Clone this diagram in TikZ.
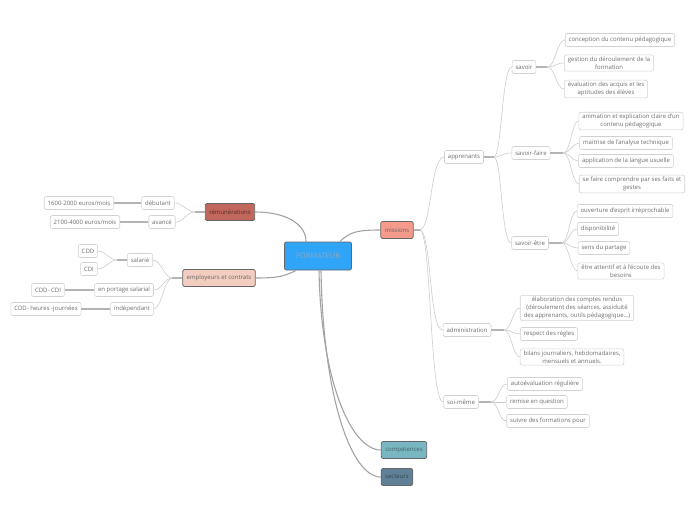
\documentclass[tikz,border=0pt]{standalone}
\usepackage{fontspec}
\setmainfont{Open Sans}
\usetikzlibrary{positioning}

\definecolor{leafline}{HTML}{D2D2D2}
\definecolor{leaftext}{HTML}{6E6E6E}
\definecolor{linkgray}{HTML}{CDCDCD}
\definecolor{stubgray}{HTML}{B4B4B4}
\definecolor{branchgray}{HTML}{A3A3A3}
\definecolor{formblue}{HTML}{30A5F8}
\definecolor{formtext}{HTML}{8AA8C6}
\definecolor{missionred}{HTML}{F69A8C}
\definecolor{remured}{HTML}{C1675B}
\definecolor{emppink}{HTML}{F2CDC0}
\definecolor{compteal}{HTML}{78B6C1}
\definecolor{sectslate}{HTML}{5F8097}

\begin{document}
\begin{tikzpicture}[
    x=1pt, y=-1pt,
    leaf/.style={
        rectangle,
        rounded corners=2pt,
        draw=leafline,
        line width=0.6pt,
        fill=white,
        text=leaftext,
        align=center,
        inner xsep=3.5pt,
        inner ysep=2pt,
        minimum height=13pt,
        font=\fontsize{6}{7.6}\selectfont
    },
    topic/.style={
        rectangle,
        rounded corners=2pt,
        draw=black!60,
        line width=0.8pt,
        align=center,
        inner xsep=4pt,
        minimum height=17pt,
        font=\fontsize{6}{7}\selectfont
    },
    link/.style={draw=linkgray, line width=0.6pt},
    stub/.style={draw=stubgray, line width=1.5pt},
    branch/.style={draw=branchgray, line width=1.1pt}
]
\useasboundingbox (0,0) rectangle (696,520);

% centre
\node[topic, fill=formblue, text=formtext, minimum width=67pt, minimum height=28pt,
      font=\fontsize{7.5}{8}\selectfont] (form) at (318,256) {FORMATEUR};

% main topics
\node[topic, fill=missionred, text=black!60] (missions) at (397,230) {missions};
\node[topic, fill=remured, text=black!55!remured] (remu) at (230,212) {rémunérations};
\node[topic, fill=emppink, text=black!60] (emp) at (219,278) {employeurs et contrats};
\node[topic, fill=compteal, text=black!45!compteal] (comp) at (404,450) {compétences};
\node[topic, fill=sectslate, text=black!45!sectslate] (sect) at (397,477) {secteurs};

% left side
\node[leaf] (debut) at (158,203) {débutant};
\node[leaf] (avance) at (162,222) {avancé};
\node[leaf] (debsal) at (79,203) {1600-2000 euros/mois};
\node[leaf] (avsal) at (85,222) {2100-4000 euros/mois};
\node[leaf] (salarie) at (140,260) {salarié};
\node[leaf] (cdd) at (88,251) {CDD};
\node[leaf] (cdi) at (89,269) {CDI};
\node[leaf] (portage) at (124,290) {en portage salarial};
\node[leaf] (portcontr) at (48,290) {CDD- CDI};
\node[leaf] (indep) at (132,309) {indépendant};
\node[leaf] (indcontr) at (46,309) {CDD- heures -journées};

% right side
\node[leaf] (appr) at (464,157) {apprenants};
\node[leaf] (savoir) at (524,67) {savoir};
\node[leaf] (savA) at (620,40) {conception du contenu pédagogique};
\node[leaf] (savB) at (609,63) {gestion du déroulement de la\\formation};
\node[leaf] (savC) at (606,89) {évaluation des acquis et les\\aptitudes des élèves};
\node[leaf] (sfaire) at (531,153) {savoir-faire};
\node[leaf] (sfA) at (631,121) {animation et explication claire d'un\\contenu pédagogique};
\node[leaf] (sfB) at (626,143) {maitrise de l'analyse technique};
\node[leaf] (sfC) at (626,161) {application de la langue usuelle};
\node[leaf] (sfD) at (632,184) {se faire comprendre par ses faits et\\gestes};
\node[leaf] (setre) at (530,243) {savoir-être};
\node[leaf] (seA) at (625,211) {ouverture d'esprit irréprochable};
\node[leaf] (seB) at (598,229) {disponibilité};
\node[leaf] (seC) at (604,248) {sens du partage};
\node[leaf] (seD) at (621,271) {être attentif et à l'écoute des\\besoins};
\node[leaf] (admin) at (467,330) {administration};
\node[leaf] (adA) at (577,308) {élaboration des comptes rendus\\(déroulement des séances, assiduité\\des apprenants, outils pédagogique...)};
\node[leaf] (adB) at (549,334) {respect des règles};
\node[leaf] (adC) at (572,357) {bilans journaliers, hebdomadaires,\\mensuels et annuels.};
\node[leaf] (soi) at (461,402) {soi-même};
\node[leaf] (soiA) at (545,384) {autoévaluation régulière};
\node[leaf] (soiB) at (537,402) {remise en question};
\node[leaf] (soiC) at (548,421) {suivre des formations pour};

% main branches
\draw[branch] ([xshift=-12pt]form.north east) .. controls +(10,-10) and +(-22,0) .. (missions.west);
\draw[branch] (remu.east) .. controls +(30,0) and +(0,-18) .. ([xshift=-12pt]form.north);
\draw[branch] (emp.east) .. controls +(22,0) and +(-12,6) .. ([xshift=12pt]form.south west);
\draw[branch] ([xshift=1pt]form.south) .. controls +(2,110) and +(-30,0) .. (comp.west);
\draw[branch] ([xshift=3pt]form.south) .. controls +(2,125) and +(-30,0) .. (sect.west);

% missions
\draw[stub] (missions.east) -- ++(6,0) coordinate (missions-j);
\foreach \c in {appr,admin,soi}
    \draw[link] (missions-j) .. controls +(12,0) and +(-14,0) .. (\c.west);

% apprenants
\draw[stub] (appr.east) -- ++(10,0) coordinate (appr-j);
\foreach \c in {savoir,sfaire,setre}
    \draw[link] (appr-j) .. controls +(8,0) and +(-10,0) .. (\c.west);

\draw[stub] (savoir.east) -- ++(11,0) coordinate (savoir-j);
\foreach \c in {savA,savB,savC}
    \draw[link] (savoir-j) .. controls +(8,0) and +(-8,0) .. (\c.west);

\draw[stub] (sfaire.east) -- ++(13,0) coordinate (sfaire-j);
\foreach \c in {sfA,sfB,sfC,sfD}
    \draw[link] (sfaire-j) .. controls +(7,0) and +(-7,0) .. (\c.west);

\draw[stub] (setre.east) -- ++(13,0) coordinate (setre-j);
\foreach \c in {seA,seB,seC,seD}
    \draw[link] (setre-j) .. controls +(7,0) and +(-7,0) .. (\c.west);

\draw[stub] (admin.east) -- ++(13,0) coordinate (admin-j);
\foreach \c in {adA,adB,adC}
    \draw[link] (admin-j) .. controls +(7,0) and +(-7,0) .. (\c.west);

\draw[stub] (soi.east) -- ++(12,0) coordinate (soi-j);
\foreach \c in {soiA,soiB,soiC}
    \draw[link] (soi-j) .. controls +(8,0) and +(-8,0) .. (\c.west);

% rémunérations
\draw[stub] (remu.west) -- ++(-10,0) coordinate (remu-j);
\foreach \c in {debut,avance}
    \draw[link] (remu-j) .. controls +(-8,0) and +(8,0) .. (\c.east);
\draw[stub] (debut.west) -- (debsal.east);
\draw[stub] (avance.west) -- (avsal.east);

% employeurs
\draw[stub] (emp.west) -- ++(-10,0) coordinate (emp-j);
\foreach \c in {salarie,portage,indep}
    \draw[link] (emp-j) .. controls +(-8,0) and +(8,0) .. (\c.east);
\draw[stub] (salarie.west) -- ++(-10,0) coordinate (salarie-j);
\foreach \c in {cdd,cdi}
    \draw[link] (salarie-j) .. controls +(-8,0) and +(8,0) .. (\c.east);
\draw[stub] (portage.west) -- (portcontr.east);
\draw[stub] (indep.west) -- (indcontr.east);

\end{tikzpicture}
\end{document}
